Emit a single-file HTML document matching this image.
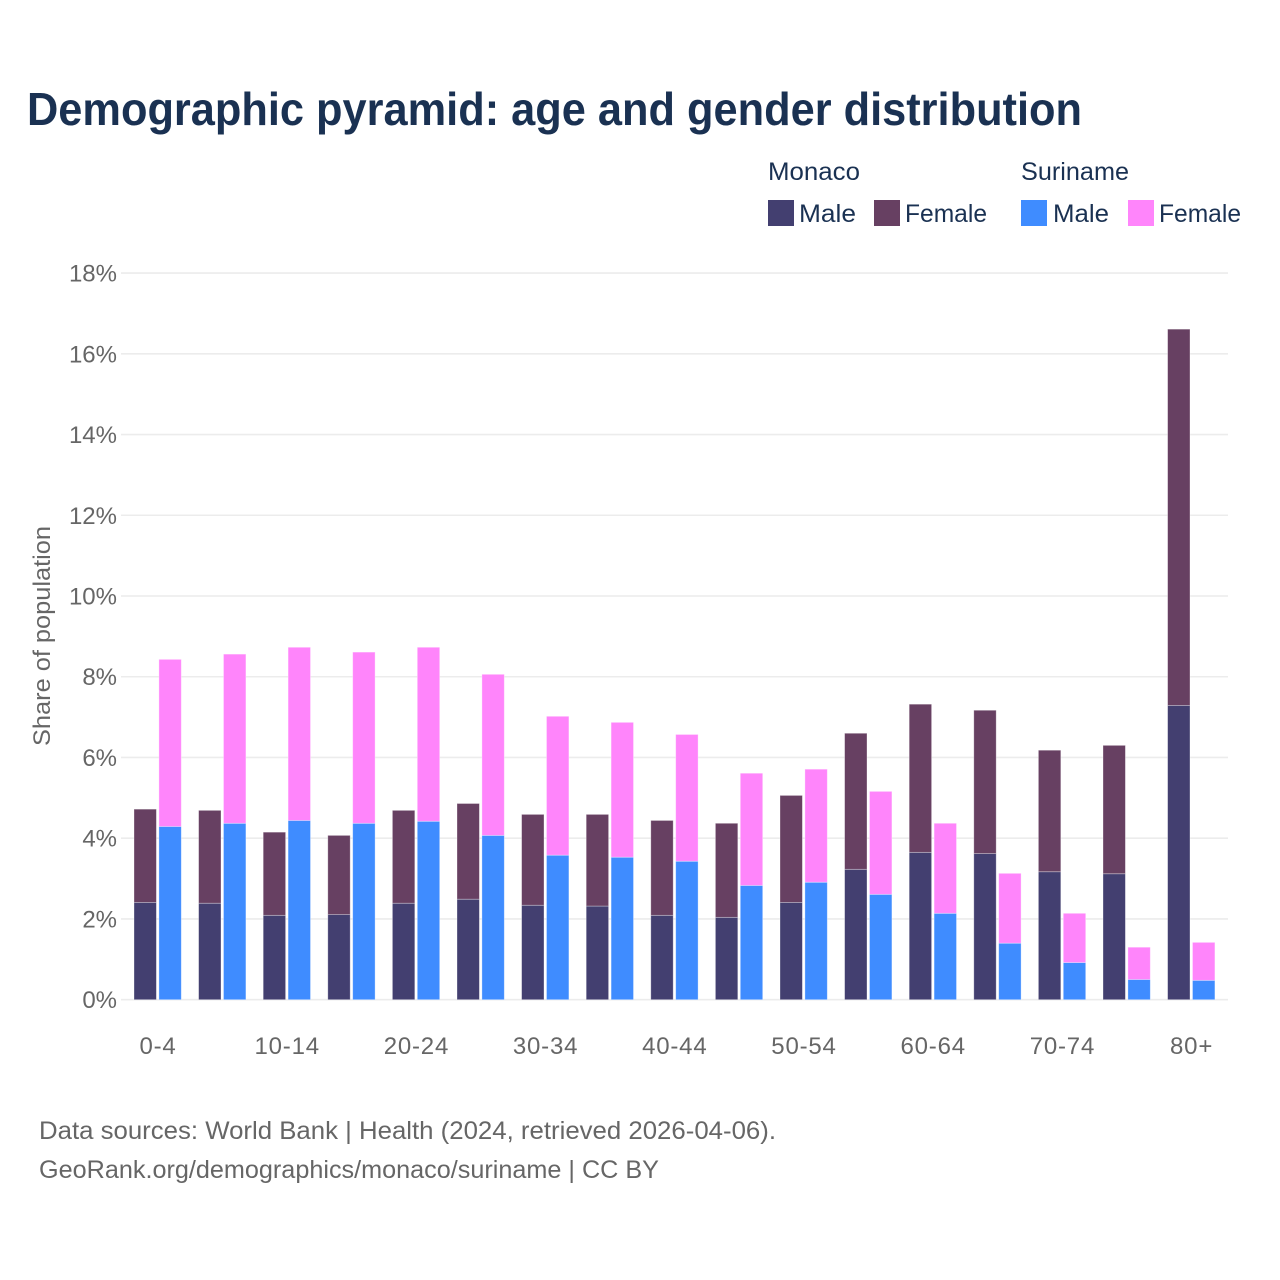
<!DOCTYPE html>
<html lang="en">
<head>
<meta charset="utf-8">
<title>Demographic pyramid</title>
<style>
html,body{margin:0;padding:0;background:#fff;}
svg{display:block;font-family:"Liberation Sans",sans-serif;}
</style>
</head>
<body>
<svg id="chart" width="1280" height="1280" viewBox="0 0 1280 1280" xmlns="http://www.w3.org/2000/svg">
<rect x="0" y="0" width="1280" height="1280" fill="#ffffff"/>
<text x="27" y="125" font-size="46" font-weight="700" fill="#1a3152" textLength="1055" lengthAdjust="spacingAndGlyphs">Demographic pyramid: age and gender distribution</text>
<g font-size="25" fill="#1a3152">
<text x="768" y="180" textLength="92" lengthAdjust="spacingAndGlyphs">Monaco</text>
<text x="1021" y="180" textLength="108" lengthAdjust="spacingAndGlyphs">Suriname</text>
<rect x="768" y="200" width="26" height="26" fill="#433f70"/>
<text x="799" y="222" textLength="57" lengthAdjust="spacingAndGlyphs">Male</text>
<rect x="874" y="200" width="26" height="26" fill="#674062"/>
<text x="905" y="222" textLength="82" lengthAdjust="spacingAndGlyphs">Female</text>
<rect x="1021" y="200" width="26" height="26" fill="#3f8cff"/>
<text x="1053" y="222" textLength="56" lengthAdjust="spacingAndGlyphs">Male</text>
<rect x="1128" y="200" width="26" height="26" fill="#ff85fb"/>
<text x="1159" y="222" textLength="82" lengthAdjust="spacingAndGlyphs">Female</text>
</g>
<g id="grid"></g>
<g id="yticks"></g>
<g id="bars"></g>
<g id="xticks"></g>
<text transform="translate(50 636) rotate(-90)" text-anchor="middle" font-size="24" fill="#666666" textLength="220" lengthAdjust="spacingAndGlyphs">Share of population</text>
<text x="39" y="1139" font-size="25" fill="#666666" textLength="737" lengthAdjust="spacingAndGlyphs">Data sources: World Bank | Health (2024, retrieved 2026-04-06).</text>
<text x="39" y="1178" font-size="25" fill="#666666" textLength="620" lengthAdjust="spacingAndGlyphs">GeoRank.org/demographics/monaco/suriname | CC BY</text>
</svg>
<script>
const categories = ["0-4","5-9","10-14","15-19","20-24","25-29","30-34","35-39","40-44","45-49","50-54","55-59","60-64","65-69","70-74","75-79","80+"];
const tickLabels = ["0-4","10-14","20-24","30-34","40-44","50-54","60-64","70-74","80+"];
const yTicks = [0,2,4,6,8,10,12,14,16,18];
const monacoMale = [2.41,2.39,2.09,2.11,2.39,2.49,2.34,2.32,2.09,2.04,2.41,3.23,3.65,3.62,3.17,3.12,7.29];
const monacoFemale = [2.31,2.30,2.06,1.96,2.30,2.37,2.25,2.27,2.35,2.33,2.65,3.37,3.67,3.55,3.01,3.18,9.32];
const surinameMale = [4.29,4.37,4.44,4.37,4.42,4.07,3.58,3.53,3.43,2.83,2.91,2.61,2.14,1.40,0.92,0.50,0.48];
const surinameFemale = [4.14,4.19,4.29,4.24,4.31,3.99,3.44,3.34,3.14,2.78,2.80,2.55,2.23,1.73,1.22,0.80,0.94];

const NS = "http://www.w3.org/2000/svg";
const yScale = v => 999.7 - v * 40.37;
const xBand = i => 158 + i * 64.6;
const barW = 22.4;

function make(tag, attrs, parent, txt) {
  const el = document.createElementNS(NS, tag);
  for (const k in attrs) el.setAttribute(k, attrs[k]);
  if (txt !== undefined) el.textContent = txt;
  parent.appendChild(el);
  return el;
}

const grid = document.getElementById("grid");
const yG = document.getElementById("yticks");
yTicks.forEach(t => {
  const line = make("line", {x1:121, x2:1228, y1:yScale(t), y2:yScale(t), stroke:"#ececec", "stroke-width":1.6}, grid);
  
  
  const label = make("text", {x:117, y:yScale(t)+8.5, "text-anchor":"end", "font-size":24, fill:"#666666"}, yG, t + "%");
  
  
});

const barsG = document.getElementById("bars");
function bar(x, base, val, fill, name) {
  const r = make("rect", {x:x, y:yScale(base+val), width:barW, height:yScale(base)-yScale(base+val), fill:fill, stroke:"#ffffff", "stroke-opacity":0.4, "stroke-width":0.8}, barsG);
  
  
}
categories.forEach((c, i) => {
  const left = xBand(i) - 24;
  const right = xBand(i) + 0.9;
  bar(left, 0, monacoMale[i], "#433f70", "bar-monaco-male");
  bar(left, monacoMale[i], monacoFemale[i], "#674062", "bar-monaco-female");
  bar(right, 0, surinameMale[i], "#3f8cff", "bar-suriname-male");
  bar(right, surinameMale[i], surinameFemale[i], "#ff85fb", "bar-suriname-female");
});

const xG = document.getElementById("xticks");
tickLabels.forEach(l => {
  const i = categories.indexOf(l);
  const t = make("text", {x:xBand(i), y:1054, "text-anchor":"middle", "font-size":24, "letter-spacing":0.8, fill:"#666666"}, xG, l);
  
  
});
</script>
</body>
</html>
